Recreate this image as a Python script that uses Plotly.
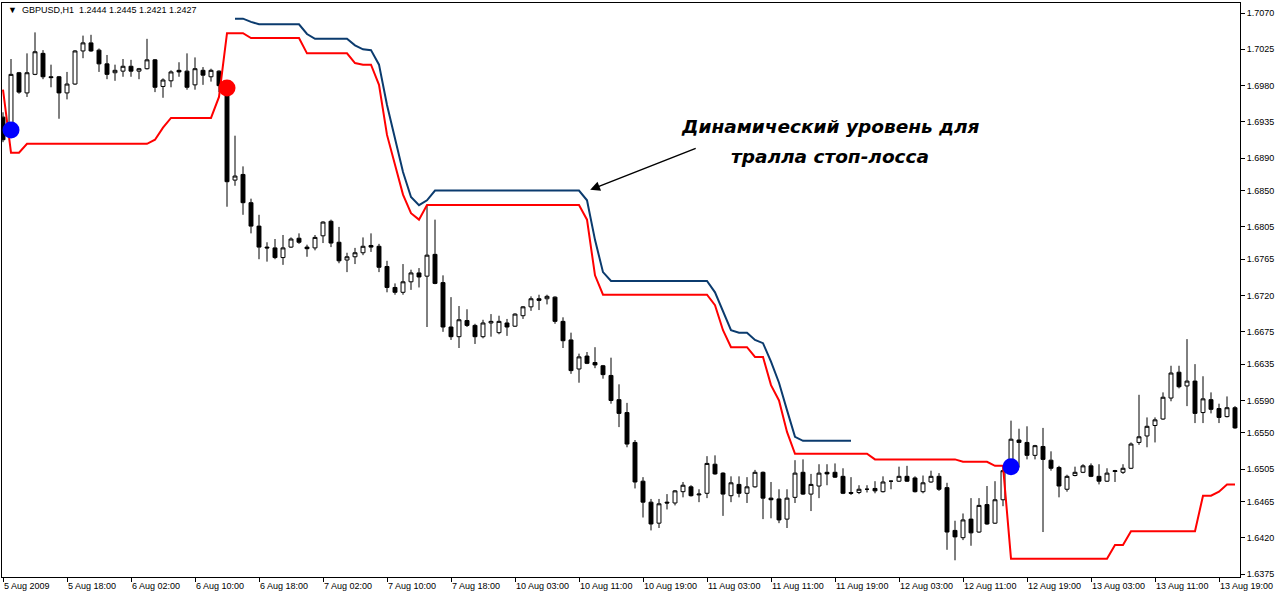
import plotly.graph_objects as go

# ---------------- data ----------------
opens = [1.6941,1.6921,1.6996,1.6971,1.6994,1.7020,1.6991,1.6991,1.6971,1.6982,
         1.7023,1.7033,1.7024,1.7007,1.6996,1.6998,1.7004,1.6998,1.7001,1.7012,
         1.6979,1.6986,1.6999,1.6998,1.6981,1.6999,1.6991,1.6998,1.6981,1.6863,
         1.6870,1.6835,1.6806,1.6780,1.6779,1.6767,1.6780,1.6791,1.6780,1.6779,
         1.6794,1.6812,1.6786,1.6764,1.6768,1.6773,1.6782,1.6781,1.6756,1.6730,
         1.6724,1.6737,1.6748,1.6744,1.6771,1.6736,1.6681,1.6669,1.6689,1.6683,
         1.6669,1.6686,1.6674,1.6686,1.6682,1.6695,1.6706,1.6716,1.6716,1.6718,
         1.6688,1.6665,1.6629,1.6645,1.6637,1.6633,1.6621,1.6591,1.6575,1.6538,
         1.6490,1.6464,1.6438,1.6464,1.6463,1.6477,1.6483,1.6473,1.6475,1.6511,
         1.6500,1.6472,1.6486,1.6475,1.6483,1.6501,1.6469,1.6468,1.6443,1.6470,
         1.6501,1.6474,1.6484,1.6501,1.6501,1.6496,1.6476,1.6476,1.6480,1.6481,
         1.6477,1.6490,1.6490,1.6496,1.6494,1.6477,1.6489,1.6496,1.6482,1.6429,
         1.6420,1.6443,1.6427,1.6461,1.6438,1.6467,1.6504,1.6541,1.6538,1.6522,
         1.6533,1.6516,1.6507,1.6480,1.6497,1.6501,1.6509,1.6496,1.6490,1.6502,
         1.6501,1.6506,1.6538,1.6546,1.6559,1.6567,1.6593,1.6625,1.6608,1.6614,
         1.6575,1.6591,1.6580,1.6570,1.6581]
highs = [1.6947,1.7013,1.6997,1.7020,1.7046,1.7024,1.7006,1.6992,1.6997,1.7024,
         1.7042,1.7043,1.7026,1.7018,1.7006,1.7013,1.7012,1.7002,1.7038,1.7013,
         1.6989,1.6999,1.7009,1.7020,1.7015,1.7003,1.7001,1.6999,1.6985,1.6918,
         1.6880,1.6840,1.6820,1.6786,1.6790,1.6795,1.6792,1.6797,1.6783,1.6795,
         1.6812,1.6814,1.6805,1.6773,1.6779,1.6792,1.6797,1.6784,1.6763,1.6735,
         1.6759,1.6752,1.6754,1.6832,1.6814,1.6745,1.6718,1.6707,1.6703,1.6685,
         1.6690,1.6697,1.6695,1.6691,1.6698,1.6707,1.6719,1.6721,1.6721,1.6719,
         1.6693,1.6674,1.6648,1.6650,1.6656,1.6634,1.6643,1.6610,1.6587,1.6541,
         1.6495,1.6468,1.6468,1.6474,1.6479,1.6489,1.6485,1.6480,1.6521,1.6522,
         1.6501,1.6496,1.6496,1.6495,1.6504,1.6502,1.6489,1.6480,1.6480,1.6516,
         1.6517,1.6499,1.6511,1.6511,1.6512,1.6506,1.6495,1.6485,1.6485,1.6490,
         1.6496,1.6491,1.6508,1.6509,1.6496,1.6497,1.6503,1.6500,1.6488,1.6441,
         1.6450,1.6469,1.6469,1.6484,1.6490,1.6506,1.6565,1.6555,1.6558,1.6535,
         1.6556,1.6527,1.6509,1.6498,1.6508,1.6511,1.6512,1.6511,1.6506,1.6504,
         1.6511,1.6538,1.6597,1.6569,1.6569,1.6600,1.6633,1.6633,1.6666,1.6635,
         1.6620,1.6600,1.6586,1.6595,1.6583]
lows = [1.6910,1.6916,1.6970,1.6966,1.6993,1.6988,1.6978,1.6939,1.6963,1.6981,
        1.7014,1.7022,1.6997,1.6988,1.6986,1.6991,1.6991,1.6988,1.7000,1.6972,
        1.6965,1.6978,1.6991,1.6975,1.6975,1.6981,1.6985,1.6972,1.6830,1.6856,
        1.6820,1.6797,1.6765,1.6762,1.6765,1.6758,1.6779,1.6784,1.6768,1.6776,
        1.6785,1.6780,1.6760,1.6749,1.6759,1.6770,1.6774,1.6749,1.6724,1.6721,
        1.6721,1.6727,1.6730,1.6681,1.6734,1.6675,1.6665,1.6655,1.6681,1.6660,
        1.6667,1.6669,1.6672,1.6670,1.6681,1.6691,1.6701,1.6702,1.6709,1.6685,
        1.6655,1.6623,1.6612,1.6635,1.6630,1.6617,1.6586,1.6557,1.6532,1.6481,
        1.6445,1.6429,1.6432,1.6455,1.6460,1.6470,1.6471,1.6464,1.6469,1.6498,
        1.6447,1.6464,1.6470,1.6463,1.6482,1.6443,1.6444,1.6438,1.6432,1.6463,
        1.6473,1.6453,1.6469,1.6485,1.6494,1.6474,1.6473,1.6474,1.6476,1.6475,
        1.6476,1.6480,1.6489,1.6489,1.6476,1.6475,1.6488,1.6478,1.6405,1.6392,
        1.6417,1.6410,1.6426,1.6436,1.6437,1.6459,1.6503,1.6507,1.6517,1.6517,
        1.6427,1.6503,1.6470,1.6477,1.6496,1.6500,1.6495,1.6486,1.6489,1.6489,
        1.6499,1.6505,1.6535,1.6532,1.6538,1.6566,1.6589,1.6605,1.6583,1.6562,
        1.6562,1.6574,1.6562,1.6569,1.6555]
closes = [1.6913,1.6994,1.6972,1.6996,1.7022,1.6991,1.6990,1.6971,1.6982,1.7023,
          1.7033,1.7023,1.7007,1.6994,1.6999,1.7004,1.6998,1.7001,1.7012,1.6978,
          1.6987,1.6997,1.6997,1.6978,1.7001,1.6993,1.6999,1.6980,1.6861,1.6868,
          1.6835,1.6806,1.6780,1.6779,1.6767,1.6779,1.6790,1.6786,1.6778,1.6792,
          1.6811,1.6785,1.6763,1.6768,1.6773,1.6781,1.6780,1.6755,1.6730,1.6724,
          1.6737,1.6748,1.6743,1.6770,1.6735,1.6681,1.6669,1.6690,1.6683,1.6669,
          1.6686,1.6688,1.6688,1.6681,1.6697,1.6706,1.6716,1.6714,1.6719,1.6688,
          1.6664,1.6627,1.6644,1.6636,1.6634,1.6622,1.6590,1.6574,1.6536,1.6489,
          1.6464,1.6437,1.6462,1.6463,1.6478,1.6485,1.6472,1.6474,1.6512,1.6499,
          1.6474,1.6488,1.6475,1.6483,1.6501,1.6469,1.6467,1.6442,1.6469,1.6500,
          1.6474,1.6486,1.6500,1.6499,1.6495,1.6475,1.6475,1.6480,1.6480,1.6478,
          1.6489,1.6490,1.6496,1.6490,1.6477,1.6488,1.6496,1.6480,1.6427,1.6421,
          1.6442,1.6426,1.6460,1.6437,1.6467,1.6503,1.6542,1.6538,1.6522,1.6534,
          1.6517,1.6506,1.6484,1.6496,1.6501,1.6509,1.6496,1.6490,1.6500,1.6503,
          1.6506,1.6536,1.6545,1.6558,1.6566,1.6594,1.6624,1.6607,1.6614,1.6574,
          1.6592,1.6579,1.6569,1.6581,1.6556]

# red trailing stop, one value per bar
red_stop = [1.6975,1.6897,1.6897,1.6908,1.6908,1.6908,1.6908,1.6908,1.6908,1.6908,
            1.6908,1.6908,1.6908,1.6908,1.6908,1.6908,1.6908,1.6908,1.6908,1.6913,
            1.6928,1.6940,1.6940,1.6940,1.6940,1.6940,1.6940,1.6966,1.7045,1.7045,
            1.7045,1.7039,1.7039,1.7039,1.7039,1.7039,1.7039,1.7039,1.7020,1.7020,
            1.7020,1.7020,1.7020,1.7020,1.7008,1.7006,1.7006,1.6981,1.6919,1.6882,
            1.6845,1.6822,1.6814,1.6832,1.6832,1.6832,1.6832,1.6832,1.6832,1.6832,
            1.6832,1.6832,1.6832,1.6832,1.6832,1.6832,1.6832,1.6832,1.6832,1.6832,
            1.6832,1.6832,1.6832,1.6814,1.6745,1.6721,1.6721,1.6721,1.6721,1.6721,
            1.6721,1.6721,1.6721,1.6721,1.6721,1.6721,1.6721,1.6721,1.6721,1.6708,
            1.6677,1.6656,1.6656,1.6656,1.6644,1.6644,1.6609,1.6590,1.6551,1.6524,
            1.6524,1.6524,1.6524,1.6524,1.6524,1.6524,1.6524,1.6524,1.6524,1.6517,
            1.6517,1.6517,1.6517,1.6517,1.6517,1.6517,1.6517,1.6517,1.6517,1.6517,
            1.6514,1.6514,1.6514,1.6514,1.6509,1.6509,1.6394,1.6394,1.6394,1.6394,
            1.6394,1.6394,1.6394,1.6394,1.6394,1.6394,1.6394,1.6394,1.6394,1.6411,
            1.6411,1.6428,1.6428,1.6428,1.6428,1.6428,1.6428,1.6428,1.6428,1.6428,
            1.6472,1.6472,1.6477,1.6486,1.6486]

# dynamic (blue) level, bars 29..106
blue_first_bar = 29
blue_level = [1.7063,1.7063,1.7059,1.7056,1.7056,1.7056,1.7056,1.7056,1.7056,1.7044,
              1.7038,1.7038,1.7038,1.7038,1.7038,1.7030,1.7025,1.7024,1.7006,1.6956,
              1.6913,1.6873,1.6842,1.6832,1.6838,1.6850,1.6850,1.6850,1.6850,1.6850,
              1.6850,1.6850,1.6850,1.6850,1.6850,1.6850,1.6850,1.6850,1.6850,1.6850,
              1.6850,1.6850,1.6850,1.6850,1.6838,1.6789,1.6749,1.6738,1.6738,1.6738,
              1.6738,1.6738,1.6738,1.6738,1.6738,1.6738,1.6738,1.6738,1.6738,1.6738,
              1.6724,1.6700,1.6677,1.6674,1.6674,1.6665,1.6661,1.6638,1.6612,1.6578,
              1.6545,1.6540,1.6540,1.6540,1.6540,1.6540,1.6540,1.6540]

# signal dots
buy_bars = [1, 126]
buy_prices = [1.6925, 1.6508]
sell_bars = [28]
sell_prices = [1.6977]

# axis ticks
x_tick_bars = [0, 8, 16, 24, 32, 40, 48, 56, 64, 72, 80, 88, 96, 104, 112, 120, 128, 136, 144, 152]
x_tick_labels = ["5 Aug 2009", "5 Aug 18:00", "6 Aug 02:00", "6 Aug 10:00", "6 Aug 18:00",
                 "7 Aug 02:00", "7 Aug 10:00", "7 Aug 18:00", "10 Aug 03:00", "10 Aug 11:00",
                 "10 Aug 19:00", "11 Aug 03:00", "11 Aug 11:00", "11 Aug 19:00", "12 Aug 03:00",
                 "12 Aug 11:00", "12 Aug 19:00", "13 Aug 03:00", "13 Aug 11:00", "13 Aug 19:00"]
y_tick_vals = [1.7070, 1.7025, 1.6980, 1.6935, 1.6890, 1.6850, 1.6805, 1.6765, 1.6720,
               1.6675, 1.6635, 1.6590, 1.6550, 1.6505, 1.6465, 1.6420, 1.6375]

header_text = "GBPUSD,H1  1.2444 1.2445 1.2421 1.2427"
note_line1 = "Динамический уровень для"
note_line2 = "тралла стоп-лосса"
arrow_bar = 73.4
arrow_price = 1.6851

# ---------------- figure ----------------
bars = list(range(len(opens)))
blue_bars = list(range(blue_first_bar, blue_first_bar + len(blue_level)))

fig = go.Figure()
fig.add_trace(go.Candlestick(
    x=bars, open=opens, high=highs, low=lows, close=closes,
    increasing=dict(line=dict(color="black", width=1), fillcolor="white"),
    decreasing=dict(line=dict(color="black", width=1), fillcolor="black"),
    whiskerwidth=0, hoverinfo="skip", showlegend=False))
fig.add_trace(go.Scatter(x=bars, y=red_stop, mode="lines",
                         line=dict(color="#ff0000", width=2), hoverinfo="skip", showlegend=False))
fig.add_trace(go.Scatter(x=blue_bars, y=blue_level, mode="lines",
                         line=dict(color="#0b3b6e", width=2), hoverinfo="skip", showlegend=False))
fig.add_trace(go.Scatter(x=buy_bars, y=buy_prices, mode="markers",
                         marker=dict(color="#0000ff", size=17, line=dict(width=0)),
                         hoverinfo="skip", showlegend=False))
fig.add_trace(go.Scatter(x=sell_bars, y=sell_prices, mode="markers",
                         marker=dict(color="#ff0000", size=17, line=dict(width=0)),
                         hoverinfo="skip", showlegend=False))

tick_font = dict(family="Liberation Sans, Arial, sans-serif", size=9, color="black")

fig.update_layout(
    width=1280, height=600,
    margin=dict(l=2, r=40, t=3, b=23, pad=0),
    paper_bgcolor="white", plot_bgcolor="white",
    boxgap=0.3,
    hovermode=False,
    xaxis=dict(range=[-0.125, 154.625], showgrid=False, zeroline=False,
               rangeslider=dict(visible=False),
               tickmode="array", tickvals=x_tick_bars, ticktext=x_tick_labels,
               ticks="outside", ticklen=4, tickcolor="black", tickwidth=1,
               ticklabelposition="outside right",
               showline=True, linecolor="black", linewidth=1, mirror=True,
               tickfont=tick_font),
    yaxis=dict(range=[1.63713, 1.70824], side="right", showgrid=False, zeroline=False,
               tickmode="array", tickvals=y_tick_vals,
               ticktext=[f"{v:.4f}" for v in y_tick_vals],
               ticks="outside", ticklen=4, tickcolor="black", tickwidth=1,
               showline=True, linecolor="black", linewidth=1, mirror=True,
               tickfont=tick_font),
)

fig.add_annotation(xref="paper", yref="paper", x=0.0035, y=0.988, xanchor="left", yanchor="middle",
                   text="\u25bc  " + header_text, showarrow=False,
                   font=dict(family="Liberation Sans, Arial, sans-serif", size=9, color="black"))
note_font = dict(family="DejaVu Sans, sans-serif", size=18.5, color="black")
fig.add_annotation(xref="paper", yref="paper", x=0.669, y=0.784, xanchor="center", yanchor="middle",
                   text="<b><i>" + note_line1 + "</i></b>", showarrow=False, font=note_font)
fig.add_annotation(xref="paper", yref="paper", x=0.669, y=0.732, xanchor="center", yanchor="middle",
                   text="<b><i>" + note_line2 + "</i></b>", showarrow=False, font=note_font)
fig.add_annotation(x=arrow_bar, y=arrow_price, xref="x", yref="y", text="",
                   showarrow=True, ax=107, ay=-42, arrowhead=2, arrowsize=1.3,
                   arrowwidth=1.5, arrowcolor="black")

fig.write_html("out.html", config={"displayModeBar": False},
               post_script="document.body.style.margin='0';document.body.style.padding='0';")
